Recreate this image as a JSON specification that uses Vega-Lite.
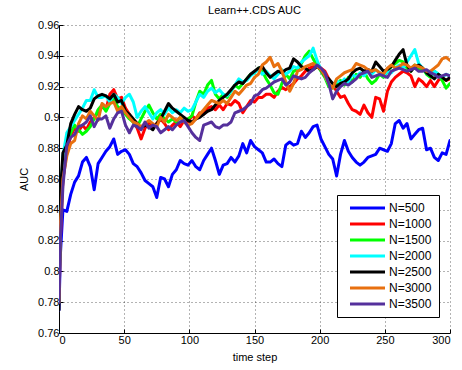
{
"$schema":"https://vega.github.io/schema/vega-lite/v6.json",
"width":391,"height":308,
"autosize":{"type":"none"},
"padding":{"left":59,"top":25,"right":12,"bottom":37},
"background":"#ffffff",
"config":{"font":"Liberation Sans","view":{"stroke":null},
"axis":{"domainColor":"#000","domainWidth":1,"tickColor":"#000","tickSize":-4,"labelFontSize":11,"labelColor":"#000","titleFontSize":11,"titleFontWeight":"normal","titleColor":"#000","gridColor":"#000","gridOpacity":0.6,"gridDash":[1,3],"gridWidth":1}},
"title":{"text":"Learn++.CDS AUC","fontSize":11,"fontWeight":"normal","color":"#000","offset":3},
"data":{"values":[
{"t":0,"s":"N=500","v":0.775},{"t":1,"s":"N=500","v":0.81},{"t":3,"s":"N=500","v":0.84},{"t":6,"s":"N=500","v":0.839},{"t":9,"s":"N=500","v":0.85},{"t":12,"s":"N=500","v":0.858},{"t":15,"s":"N=500","v":0.862},{"t":18,"s":"N=500","v":0.871},{"t":21,"s":"N=500","v":0.874},{"t":24,"s":"N=500","v":0.868},{"t":27,"s":"N=500","v":0.853},{"t":30,"s":"N=500","v":0.87},{"t":33,"s":"N=500","v":0.874},{"t":36,"s":"N=500","v":0.878},{"t":39,"s":"N=500","v":0.881},{"t":42,"s":"N=500","v":0.886},{"t":45,"s":"N=500","v":0.876},{"t":48,"s":"N=500","v":0.878},{"t":51,"s":"N=500","v":0.879},{"t":54,"s":"N=500","v":0.876},{"t":57,"s":"N=500","v":0.87},{"t":60,"s":"N=500","v":0.868},{"t":63,"s":"N=500","v":0.864},{"t":66,"s":"N=500","v":0.859},{"t":69,"s":"N=500","v":0.857},{"t":72,"s":"N=500","v":0.855},{"t":75,"s":"N=500","v":0.848},{"t":78,"s":"N=500","v":0.861},{"t":81,"s":"N=500","v":0.86},{"t":84,"s":"N=500","v":0.855},{"t":87,"s":"N=500","v":0.863},{"t":90,"s":"N=500","v":0.866},{"t":93,"s":"N=500","v":0.872},{"t":96,"s":"N=500","v":0.87},{"t":99,"s":"N=500","v":0.869},{"t":102,"s":"N=500","v":0.872},{"t":105,"s":"N=500","v":0.868},{"t":108,"s":"N=500","v":0.866},{"t":111,"s":"N=500","v":0.872},{"t":114,"s":"N=500","v":0.876},{"t":117,"s":"N=500","v":0.88},{"t":120,"s":"N=500","v":0.872},{"t":123,"s":"N=500","v":0.863},{"t":126,"s":"N=500","v":0.869},{"t":129,"s":"N=500","v":0.87},{"t":132,"s":"N=500","v":0.874},{"t":135,"s":"N=500","v":0.871},{"t":138,"s":"N=500","v":0.875},{"t":141,"s":"N=500","v":0.883},{"t":144,"s":"N=500","v":0.877},{"t":147,"s":"N=500","v":0.885},{"t":150,"s":"N=500","v":0.881},{"t":153,"s":"N=500","v":0.879},{"t":156,"s":"N=500","v":0.877},{"t":159,"s":"N=500","v":0.871},{"t":162,"s":"N=500","v":0.871},{"t":165,"s":"N=500","v":0.873},{"t":168,"s":"N=500","v":0.87},{"t":171,"s":"N=500","v":0.868},{"t":174,"s":"N=500","v":0.882},{"t":177,"s":"N=500","v":0.884},{"t":180,"s":"N=500","v":0.882},{"t":183,"s":"N=500","v":0.883},{"t":186,"s":"N=500","v":0.891},{"t":189,"s":"N=500","v":0.887},{"t":192,"s":"N=500","v":0.89},{"t":195,"s":"N=500","v":0.894},{"t":198,"s":"N=500","v":0.895},{"t":201,"s":"N=500","v":0.886},{"t":204,"s":"N=500","v":0.881},{"t":207,"s":"N=500","v":0.876},{"t":210,"s":"N=500","v":0.873},{"t":213,"s":"N=500","v":0.862},{"t":216,"s":"N=500","v":0.876},{"t":219,"s":"N=500","v":0.885},{"t":222,"s":"N=500","v":0.878},{"t":225,"s":"N=500","v":0.874},{"t":228,"s":"N=500","v":0.871},{"t":231,"s":"N=500","v":0.869},{"t":234,"s":"N=500","v":0.871},{"t":237,"s":"N=500","v":0.874},{"t":240,"s":"N=500","v":0.875},{"t":243,"s":"N=500","v":0.876},{"t":246,"s":"N=500","v":0.88},{"t":249,"s":"N=500","v":0.879},{"t":252,"s":"N=500","v":0.878},{"t":255,"s":"N=500","v":0.883},{"t":258,"s":"N=500","v":0.896},{"t":261,"s":"N=500","v":0.898},{"t":264,"s":"N=500","v":0.893},{"t":267,"s":"N=500","v":0.896},{"t":270,"s":"N=500","v":0.886},{"t":273,"s":"N=500","v":0.889},{"t":276,"s":"N=500","v":0.892},{"t":279,"s":"N=500","v":0.893},{"t":282,"s":"N=500","v":0.879},{"t":285,"s":"N=500","v":0.88},{"t":288,"s":"N=500","v":0.874},{"t":291,"s":"N=500","v":0.872},{"t":294,"s":"N=500","v":0.877},{"t":297,"s":"N=500","v":0.876},{"t":300,"s":"N=500","v":0.885},
{"t":0,"s":"N=1000","v":0.78},{"t":1,"s":"N=1000","v":0.82},{"t":3,"s":"N=1000","v":0.86},{"t":6,"s":"N=1000","v":0.878},{"t":9,"s":"N=1000","v":0.888},{"t":12,"s":"N=1000","v":0.893},{"t":15,"s":"N=1000","v":0.891},{"t":18,"s":"N=1000","v":0.895},{"t":21,"s":"N=1000","v":0.892},{"t":24,"s":"N=1000","v":0.897},{"t":27,"s":"N=1000","v":0.9},{"t":30,"s":"N=1000","v":0.903},{"t":33,"s":"N=1000","v":0.907},{"t":36,"s":"N=1000","v":0.905},{"t":39,"s":"N=1000","v":0.915},{"t":42,"s":"N=1000","v":0.918},{"t":45,"s":"N=1000","v":0.912},{"t":48,"s":"N=1000","v":0.913},{"t":51,"s":"N=1000","v":0.906},{"t":54,"s":"N=1000","v":0.902},{"t":57,"s":"N=1000","v":0.897},{"t":60,"s":"N=1000","v":0.893},{"t":63,"s":"N=1000","v":0.886},{"t":66,"s":"N=1000","v":0.893},{"t":69,"s":"N=1000","v":0.897},{"t":72,"s":"N=1000","v":0.894},{"t":75,"s":"N=1000","v":0.896},{"t":78,"s":"N=1000","v":0.899},{"t":81,"s":"N=1000","v":0.896},{"t":84,"s":"N=1000","v":0.892},{"t":87,"s":"N=1000","v":0.895},{"t":90,"s":"N=1000","v":0.897},{"t":93,"s":"N=1000","v":0.894},{"t":96,"s":"N=1000","v":0.898},{"t":99,"s":"N=1000","v":0.897},{"t":102,"s":"N=1000","v":0.901},{"t":105,"s":"N=1000","v":0.899},{"t":108,"s":"N=1000","v":0.903},{"t":111,"s":"N=1000","v":0.902},{"t":114,"s":"N=1000","v":0.906},{"t":117,"s":"N=1000","v":0.907},{"t":120,"s":"N=1000","v":0.905},{"t":123,"s":"N=1000","v":0.908},{"t":126,"s":"N=1000","v":0.905},{"t":129,"s":"N=1000","v":0.909},{"t":132,"s":"N=1000","v":0.908},{"t":135,"s":"N=1000","v":0.911},{"t":138,"s":"N=1000","v":0.909},{"t":141,"s":"N=1000","v":0.903},{"t":144,"s":"N=1000","v":0.907},{"t":147,"s":"N=1000","v":0.911},{"t":150,"s":"N=1000","v":0.91},{"t":153,"s":"N=1000","v":0.913},{"t":156,"s":"N=1000","v":0.913},{"t":159,"s":"N=1000","v":0.915},{"t":162,"s":"N=1000","v":0.915},{"t":165,"s":"N=1000","v":0.913},{"t":168,"s":"N=1000","v":0.917},{"t":171,"s":"N=1000","v":0.9195},{"t":174,"s":"N=1000","v":0.918},{"t":177,"s":"N=1000","v":0.92},{"t":180,"s":"N=1000","v":0.922},{"t":183,"s":"N=1000","v":0.925},{"t":186,"s":"N=1000","v":0.927},{"t":189,"s":"N=1000","v":0.93},{"t":192,"s":"N=1000","v":0.932},{"t":195,"s":"N=1000","v":0.933},{"t":198,"s":"N=1000","v":0.933},{"t":201,"s":"N=1000","v":0.932},{"t":204,"s":"N=1000","v":0.93},{"t":207,"s":"N=1000","v":0.925},{"t":210,"s":"N=1000","v":0.921},{"t":213,"s":"N=1000","v":0.917},{"t":216,"s":"N=1000","v":0.913},{"t":219,"s":"N=1000","v":0.914},{"t":222,"s":"N=1000","v":0.909},{"t":225,"s":"N=1000","v":0.905},{"t":228,"s":"N=1000","v":0.904},{"t":231,"s":"N=1000","v":0.902},{"t":234,"s":"N=1000","v":0.908},{"t":237,"s":"N=1000","v":0.903},{"t":240,"s":"N=1000","v":0.9},{"t":243,"s":"N=1000","v":0.913},{"t":246,"s":"N=1000","v":0.912},{"t":249,"s":"N=1000","v":0.904},{"t":252,"s":"N=1000","v":0.917},{"t":255,"s":"N=1000","v":0.923},{"t":258,"s":"N=1000","v":0.926},{"t":261,"s":"N=1000","v":0.928},{"t":264,"s":"N=1000","v":0.93},{"t":267,"s":"N=1000","v":0.929},{"t":270,"s":"N=1000","v":0.927},{"t":273,"s":"N=1000","v":0.92},{"t":276,"s":"N=1000","v":0.925},{"t":279,"s":"N=1000","v":0.923},{"t":282,"s":"N=1000","v":0.92},{"t":285,"s":"N=1000","v":0.924},{"t":288,"s":"N=1000","v":0.92},{"t":291,"s":"N=1000","v":0.924},{"t":294,"s":"N=1000","v":0.926},{"t":297,"s":"N=1000","v":0.924},{"t":300,"s":"N=1000","v":0.925},
{"t":0,"s":"N=1500","v":0.78},{"t":1,"s":"N=1500","v":0.83},{"t":3,"s":"N=1500","v":0.865},{"t":6,"s":"N=1500","v":0.882},{"t":9,"s":"N=1500","v":0.89},{"t":12,"s":"N=1500","v":0.895},{"t":15,"s":"N=1500","v":0.892},{"t":18,"s":"N=1500","v":0.889},{"t":21,"s":"N=1500","v":0.891},{"t":24,"s":"N=1500","v":0.894},{"t":27,"s":"N=1500","v":0.899},{"t":30,"s":"N=1500","v":0.905},{"t":33,"s":"N=1500","v":0.908},{"t":36,"s":"N=1500","v":0.904},{"t":39,"s":"N=1500","v":0.909},{"t":42,"s":"N=1500","v":0.912},{"t":45,"s":"N=1500","v":0.907},{"t":48,"s":"N=1500","v":0.905},{"t":51,"s":"N=1500","v":0.902},{"t":54,"s":"N=1500","v":0.899},{"t":57,"s":"N=1500","v":0.897},{"t":60,"s":"N=1500","v":0.894},{"t":63,"s":"N=1500","v":0.899},{"t":66,"s":"N=1500","v":0.904},{"t":69,"s":"N=1500","v":0.908},{"t":72,"s":"N=1500","v":0.903},{"t":75,"s":"N=1500","v":0.899},{"t":78,"s":"N=1500","v":0.902},{"t":81,"s":"N=1500","v":0.899},{"t":84,"s":"N=1500","v":0.897},{"t":87,"s":"N=1500","v":0.899},{"t":90,"s":"N=1500","v":0.897},{"t":93,"s":"N=1500","v":0.9},{"t":96,"s":"N=1500","v":0.898},{"t":99,"s":"N=1500","v":0.899},{"t":102,"s":"N=1500","v":0.901},{"t":105,"s":"N=1500","v":0.91},{"t":108,"s":"N=1500","v":0.917},{"t":111,"s":"N=1500","v":0.915},{"t":114,"s":"N=1500","v":0.921},{"t":117,"s":"N=1500","v":0.924},{"t":120,"s":"N=1500","v":0.915},{"t":123,"s":"N=1500","v":0.912},{"t":126,"s":"N=1500","v":0.915},{"t":129,"s":"N=1500","v":0.913},{"t":132,"s":"N=1500","v":0.917},{"t":135,"s":"N=1500","v":0.921},{"t":138,"s":"N=1500","v":0.919},{"t":141,"s":"N=1500","v":0.922},{"t":144,"s":"N=1500","v":0.925},{"t":147,"s":"N=1500","v":0.928},{"t":150,"s":"N=1500","v":0.929},{"t":153,"s":"N=1500","v":0.932},{"t":156,"s":"N=1500","v":0.93},{"t":159,"s":"N=1500","v":0.925},{"t":162,"s":"N=1500","v":0.921},{"t":165,"s":"N=1500","v":0.916},{"t":168,"s":"N=1500","v":0.915},{"t":171,"s":"N=1500","v":0.922},{"t":174,"s":"N=1500","v":0.928},{"t":177,"s":"N=1500","v":0.925},{"t":180,"s":"N=1500","v":0.93},{"t":183,"s":"N=1500","v":0.931},{"t":186,"s":"N=1500","v":0.935},{"t":189,"s":"N=1500","v":0.94},{"t":192,"s":"N=1500","v":0.943},{"t":195,"s":"N=1500","v":0.938},{"t":198,"s":"N=1500","v":0.934},{"t":201,"s":"N=1500","v":0.93},{"t":204,"s":"N=1500","v":0.926},{"t":207,"s":"N=1500","v":0.92},{"t":210,"s":"N=1500","v":0.919},{"t":213,"s":"N=1500","v":0.922},{"t":216,"s":"N=1500","v":0.924},{"t":219,"s":"N=1500","v":0.921},{"t":222,"s":"N=1500","v":0.926},{"t":225,"s":"N=1500","v":0.923},{"t":228,"s":"N=1500","v":0.928},{"t":231,"s":"N=1500","v":0.926},{"t":234,"s":"N=1500","v":0.93},{"t":237,"s":"N=1500","v":0.925},{"t":240,"s":"N=1500","v":0.922},{"t":243,"s":"N=1500","v":0.924},{"t":246,"s":"N=1500","v":0.928},{"t":249,"s":"N=1500","v":0.926},{"t":252,"s":"N=1500","v":0.93},{"t":255,"s":"N=1500","v":0.933},{"t":258,"s":"N=1500","v":0.935},{"t":261,"s":"N=1500","v":0.937},{"t":264,"s":"N=1500","v":0.936},{"t":267,"s":"N=1500","v":0.932},{"t":270,"s":"N=1500","v":0.93},{"t":273,"s":"N=1500","v":0.934},{"t":276,"s":"N=1500","v":0.931},{"t":279,"s":"N=1500","v":0.932},{"t":282,"s":"N=1500","v":0.928},{"t":285,"s":"N=1500","v":0.926},{"t":288,"s":"N=1500","v":0.93},{"t":291,"s":"N=1500","v":0.928},{"t":294,"s":"N=1500","v":0.924},{"t":297,"s":"N=1500","v":0.919},{"t":300,"s":"N=1500","v":0.922},
{"t":0,"s":"N=2000","v":0.78},{"t":1,"s":"N=2000","v":0.84},{"t":3,"s":"N=2000","v":0.875},{"t":6,"s":"N=2000","v":0.89},{"t":9,"s":"N=2000","v":0.894},{"t":12,"s":"N=2000","v":0.898},{"t":15,"s":"N=2000","v":0.902},{"t":18,"s":"N=2000","v":0.906},{"t":21,"s":"N=2000","v":0.911},{"t":24,"s":"N=2000","v":0.911},{"t":27,"s":"N=2000","v":0.918},{"t":30,"s":"N=2000","v":0.913},{"t":33,"s":"N=2000","v":0.913},{"t":36,"s":"N=2000","v":0.914},{"t":39,"s":"N=2000","v":0.91},{"t":42,"s":"N=2000","v":0.915},{"t":45,"s":"N=2000","v":0.913},{"t":48,"s":"N=2000","v":0.909},{"t":51,"s":"N=2000","v":0.913},{"t":54,"s":"N=2000","v":0.915},{"t":57,"s":"N=2000","v":0.91},{"t":60,"s":"N=2000","v":0.9},{"t":63,"s":"N=2000","v":0.904},{"t":66,"s":"N=2000","v":0.907},{"t":69,"s":"N=2000","v":0.903},{"t":72,"s":"N=2000","v":0.899},{"t":75,"s":"N=2000","v":0.903},{"t":78,"s":"N=2000","v":0.905},{"t":81,"s":"N=2000","v":0.902},{"t":84,"s":"N=2000","v":0.906},{"t":87,"s":"N=2000","v":0.903},{"t":90,"s":"N=2000","v":0.905},{"t":93,"s":"N=2000","v":0.903},{"t":96,"s":"N=2000","v":0.906},{"t":99,"s":"N=2000","v":0.904},{"t":102,"s":"N=2000","v":0.905},{"t":105,"s":"N=2000","v":0.91},{"t":108,"s":"N=2000","v":0.915},{"t":111,"s":"N=2000","v":0.913},{"t":114,"s":"N=2000","v":0.917},{"t":117,"s":"N=2000","v":0.919},{"t":120,"s":"N=2000","v":0.916},{"t":123,"s":"N=2000","v":0.918},{"t":126,"s":"N=2000","v":0.915},{"t":129,"s":"N=2000","v":0.914},{"t":132,"s":"N=2000","v":0.917},{"t":135,"s":"N=2000","v":0.921},{"t":138,"s":"N=2000","v":0.925},{"t":141,"s":"N=2000","v":0.923},{"t":144,"s":"N=2000","v":0.924},{"t":147,"s":"N=2000","v":0.927},{"t":150,"s":"N=2000","v":0.929},{"t":153,"s":"N=2000","v":0.931},{"t":156,"s":"N=2000","v":0.928},{"t":159,"s":"N=2000","v":0.93},{"t":162,"s":"N=2000","v":0.927},{"t":165,"s":"N=2000","v":0.925},{"t":168,"s":"N=2000","v":0.928},{"t":171,"s":"N=2000","v":0.931},{"t":174,"s":"N=2000","v":0.928},{"t":177,"s":"N=2000","v":0.93},{"t":180,"s":"N=2000","v":0.933},{"t":183,"s":"N=2000","v":0.932},{"t":186,"s":"N=2000","v":0.936},{"t":189,"s":"N=2000","v":0.938},{"t":192,"s":"N=2000","v":0.94},{"t":195,"s":"N=2000","v":0.945},{"t":198,"s":"N=2000","v":0.937},{"t":201,"s":"N=2000","v":0.931},{"t":204,"s":"N=2000","v":0.927},{"t":207,"s":"N=2000","v":0.922},{"t":210,"s":"N=2000","v":0.92},{"t":213,"s":"N=2000","v":0.924},{"t":216,"s":"N=2000","v":0.922},{"t":219,"s":"N=2000","v":0.925},{"t":222,"s":"N=2000","v":0.923},{"t":225,"s":"N=2000","v":0.928},{"t":228,"s":"N=2000","v":0.926},{"t":231,"s":"N=2000","v":0.929},{"t":234,"s":"N=2000","v":0.927},{"t":237,"s":"N=2000","v":0.93},{"t":240,"s":"N=2000","v":0.928},{"t":243,"s":"N=2000","v":0.931},{"t":246,"s":"N=2000","v":0.929},{"t":249,"s":"N=2000","v":0.927},{"t":252,"s":"N=2000","v":0.93},{"t":255,"s":"N=2000","v":0.929},{"t":258,"s":"N=2000","v":0.932},{"t":261,"s":"N=2000","v":0.934},{"t":264,"s":"N=2000","v":0.932},{"t":267,"s":"N=2000","v":0.936},{"t":270,"s":"N=2000","v":0.94},{"t":273,"s":"N=2000","v":0.944},{"t":276,"s":"N=2000","v":0.935},{"t":279,"s":"N=2000","v":0.932},{"t":282,"s":"N=2000","v":0.929},{"t":285,"s":"N=2000","v":0.927},{"t":288,"s":"N=2000","v":0.93},{"t":291,"s":"N=2000","v":0.928},{"t":294,"s":"N=2000","v":0.926},{"t":297,"s":"N=2000","v":0.928},{"t":300,"s":"N=2000","v":0.927},
{"t":0,"s":"N=2500","v":0.775},{"t":1,"s":"N=2500","v":0.85},{"t":3,"s":"N=2500","v":0.877},{"t":6,"s":"N=2500","v":0.882},{"t":9,"s":"N=2500","v":0.896},{"t":12,"s":"N=2500","v":0.902},{"t":15,"s":"N=2500","v":0.907},{"t":18,"s":"N=2500","v":0.905},{"t":21,"s":"N=2500","v":0.904},{"t":24,"s":"N=2500","v":0.906},{"t":27,"s":"N=2500","v":0.912},{"t":30,"s":"N=2500","v":0.914},{"t":33,"s":"N=2500","v":0.915},{"t":36,"s":"N=2500","v":0.914},{"t":39,"s":"N=2500","v":0.912},{"t":42,"s":"N=2500","v":0.915},{"t":45,"s":"N=2500","v":0.91},{"t":48,"s":"N=2500","v":0.911},{"t":51,"s":"N=2500","v":0.904},{"t":54,"s":"N=2500","v":0.902},{"t":57,"s":"N=2500","v":0.899},{"t":60,"s":"N=2500","v":0.896},{"t":63,"s":"N=2500","v":0.893},{"t":66,"s":"N=2500","v":0.895},{"t":69,"s":"N=2500","v":0.894},{"t":72,"s":"N=2500","v":0.892},{"t":75,"s":"N=2500","v":0.896},{"t":78,"s":"N=2500","v":0.899},{"t":81,"s":"N=2500","v":0.904},{"t":84,"s":"N=2500","v":0.909},{"t":87,"s":"N=2500","v":0.906},{"t":90,"s":"N=2500","v":0.904},{"t":93,"s":"N=2500","v":0.902},{"t":96,"s":"N=2500","v":0.9},{"t":99,"s":"N=2500","v":0.898},{"t":102,"s":"N=2500","v":0.897},{"t":105,"s":"N=2500","v":0.899},{"t":108,"s":"N=2500","v":0.9},{"t":111,"s":"N=2500","v":0.902},{"t":114,"s":"N=2500","v":0.904},{"t":117,"s":"N=2500","v":0.905},{"t":120,"s":"N=2500","v":0.908},{"t":123,"s":"N=2500","v":0.911},{"t":126,"s":"N=2500","v":0.913},{"t":129,"s":"N=2500","v":0.915},{"t":132,"s":"N=2500","v":0.918},{"t":135,"s":"N=2500","v":0.921},{"t":138,"s":"N=2500","v":0.923},{"t":141,"s":"N=2500","v":0.922},{"t":144,"s":"N=2500","v":0.925},{"t":147,"s":"N=2500","v":0.928},{"t":150,"s":"N=2500","v":0.93},{"t":153,"s":"N=2500","v":0.932},{"t":156,"s":"N=2500","v":0.933},{"t":159,"s":"N=2500","v":0.929},{"t":162,"s":"N=2500","v":0.926},{"t":165,"s":"N=2500","v":0.928},{"t":168,"s":"N=2500","v":0.93},{"t":171,"s":"N=2500","v":0.929},{"t":174,"s":"N=2500","v":0.931},{"t":177,"s":"N=2500","v":0.932},{"t":180,"s":"N=2500","v":0.938},{"t":183,"s":"N=2500","v":0.936},{"t":186,"s":"N=2500","v":0.933},{"t":189,"s":"N=2500","v":0.932},{"t":192,"s":"N=2500","v":0.93},{"t":195,"s":"N=2500","v":0.931},{"t":198,"s":"N=2500","v":0.933},{"t":201,"s":"N=2500","v":0.931},{"t":204,"s":"N=2500","v":0.927},{"t":207,"s":"N=2500","v":0.925},{"t":210,"s":"N=2500","v":0.922},{"t":213,"s":"N=2500","v":0.92},{"t":216,"s":"N=2500","v":0.922},{"t":219,"s":"N=2500","v":0.923},{"t":222,"s":"N=2500","v":0.925},{"t":225,"s":"N=2500","v":0.929},{"t":228,"s":"N=2500","v":0.931},{"t":231,"s":"N=2500","v":0.932},{"t":234,"s":"N=2500","v":0.93},{"t":237,"s":"N=2500","v":0.931},{"t":240,"s":"N=2500","v":0.93},{"t":243,"s":"N=2500","v":0.936},{"t":246,"s":"N=2500","v":0.933},{"t":249,"s":"N=2500","v":0.93},{"t":252,"s":"N=2500","v":0.931},{"t":255,"s":"N=2500","v":0.933},{"t":258,"s":"N=2500","v":0.937},{"t":261,"s":"N=2500","v":0.941},{"t":264,"s":"N=2500","v":0.944},{"t":267,"s":"N=2500","v":0.934},{"t":270,"s":"N=2500","v":0.93},{"t":273,"s":"N=2500","v":0.933},{"t":276,"s":"N=2500","v":0.934},{"t":279,"s":"N=2500","v":0.932},{"t":282,"s":"N=2500","v":0.929},{"t":285,"s":"N=2500","v":0.927},{"t":288,"s":"N=2500","v":0.925},{"t":291,"s":"N=2500","v":0.928},{"t":294,"s":"N=2500","v":0.926},{"t":297,"s":"N=2500","v":0.924},{"t":300,"s":"N=2500","v":0.926},
{"t":0,"s":"N=3000","v":0.78},{"t":1,"s":"N=3000","v":0.83},{"t":3,"s":"N=3000","v":0.86},{"t":6,"s":"N=3000","v":0.875},{"t":9,"s":"N=3000","v":0.883},{"t":12,"s":"N=3000","v":0.885},{"t":15,"s":"N=3000","v":0.896},{"t":18,"s":"N=3000","v":0.901},{"t":21,"s":"N=3000","v":0.899},{"t":24,"s":"N=3000","v":0.904},{"t":27,"s":"N=3000","v":0.901},{"t":30,"s":"N=3000","v":0.898},{"t":33,"s":"N=3000","v":0.909},{"t":36,"s":"N=3000","v":0.907},{"t":39,"s":"N=3000","v":0.909},{"t":42,"s":"N=3000","v":0.91},{"t":45,"s":"N=3000","v":0.904},{"t":48,"s":"N=3000","v":0.907},{"t":51,"s":"N=3000","v":0.903},{"t":54,"s":"N=3000","v":0.9},{"t":57,"s":"N=3000","v":0.897},{"t":60,"s":"N=3000","v":0.896},{"t":63,"s":"N=3000","v":0.894},{"t":66,"s":"N=3000","v":0.896},{"t":69,"s":"N=3000","v":0.898},{"t":72,"s":"N=3000","v":0.896},{"t":75,"s":"N=3000","v":0.894},{"t":78,"s":"N=3000","v":0.9},{"t":81,"s":"N=3000","v":0.897},{"t":84,"s":"N=3000","v":0.902},{"t":87,"s":"N=3000","v":0.9},{"t":90,"s":"N=3000","v":0.898},{"t":93,"s":"N=3000","v":0.9},{"t":96,"s":"N=3000","v":0.897},{"t":99,"s":"N=3000","v":0.895},{"t":102,"s":"N=3000","v":0.896},{"t":105,"s":"N=3000","v":0.899},{"t":108,"s":"N=3000","v":0.902},{"t":111,"s":"N=3000","v":0.905},{"t":114,"s":"N=3000","v":0.908},{"t":117,"s":"N=3000","v":0.911},{"t":120,"s":"N=3000","v":0.91},{"t":123,"s":"N=3000","v":0.909},{"t":126,"s":"N=3000","v":0.911},{"t":129,"s":"N=3000","v":0.909},{"t":132,"s":"N=3000","v":0.913},{"t":135,"s":"N=3000","v":0.917},{"t":138,"s":"N=3000","v":0.915},{"t":141,"s":"N=3000","v":0.918},{"t":144,"s":"N=3000","v":0.921},{"t":147,"s":"N=3000","v":0.922},{"t":150,"s":"N=3000","v":0.926},{"t":153,"s":"N=3000","v":0.928},{"t":156,"s":"N=3000","v":0.934},{"t":159,"s":"N=3000","v":0.936},{"t":162,"s":"N=3000","v":0.939},{"t":165,"s":"N=3000","v":0.933},{"t":168,"s":"N=3000","v":0.935},{"t":171,"s":"N=3000","v":0.93},{"t":174,"s":"N=3000","v":0.923},{"t":177,"s":"N=3000","v":0.917},{"t":180,"s":"N=3000","v":0.922},{"t":183,"s":"N=3000","v":0.93},{"t":186,"s":"N=3000","v":0.931},{"t":189,"s":"N=3000","v":0.933},{"t":192,"s":"N=3000","v":0.934},{"t":195,"s":"N=3000","v":0.935},{"t":198,"s":"N=3000","v":0.933},{"t":201,"s":"N=3000","v":0.931},{"t":204,"s":"N=3000","v":0.927},{"t":207,"s":"N=3000","v":0.922},{"t":210,"s":"N=3000","v":0.919},{"t":213,"s":"N=3000","v":0.925},{"t":216,"s":"N=3000","v":0.927},{"t":219,"s":"N=3000","v":0.929},{"t":222,"s":"N=3000","v":0.93},{"t":225,"s":"N=3000","v":0.931},{"t":228,"s":"N=3000","v":0.935},{"t":231,"s":"N=3000","v":0.934},{"t":234,"s":"N=3000","v":0.933},{"t":237,"s":"N=3000","v":0.931},{"t":240,"s":"N=3000","v":0.93},{"t":243,"s":"N=3000","v":0.931},{"t":246,"s":"N=3000","v":0.929},{"t":249,"s":"N=3000","v":0.928},{"t":252,"s":"N=3000","v":0.932},{"t":255,"s":"N=3000","v":0.934},{"t":258,"s":"N=3000","v":0.932},{"t":261,"s":"N=3000","v":0.933},{"t":264,"s":"N=3000","v":0.935},{"t":267,"s":"N=3000","v":0.934},{"t":270,"s":"N=3000","v":0.932},{"t":273,"s":"N=3000","v":0.934},{"t":276,"s":"N=3000","v":0.933},{"t":279,"s":"N=3000","v":0.932},{"t":282,"s":"N=3000","v":0.93},{"t":285,"s":"N=3000","v":0.93},{"t":288,"s":"N=3000","v":0.932},{"t":291,"s":"N=3000","v":0.934},{"t":294,"s":"N=3000","v":0.938},{"t":297,"s":"N=3000","v":0.939},{"t":300,"s":"N=3000","v":0.937},
{"t":0,"s":"N=3500","v":0.78},{"t":1,"s":"N=3500","v":0.82},{"t":3,"s":"N=3500","v":0.855},{"t":6,"s":"N=3500","v":0.882},{"t":9,"s":"N=3500","v":0.887},{"t":12,"s":"N=3500","v":0.889},{"t":15,"s":"N=3500","v":0.894},{"t":18,"s":"N=3500","v":0.895},{"t":21,"s":"N=3500","v":0.897},{"t":24,"s":"N=3500","v":0.901},{"t":27,"s":"N=3500","v":0.894},{"t":30,"s":"N=3500","v":0.899},{"t":33,"s":"N=3500","v":0.899},{"t":36,"s":"N=3500","v":0.901},{"t":39,"s":"N=3500","v":0.893},{"t":42,"s":"N=3500","v":0.899},{"t":45,"s":"N=3500","v":0.903},{"t":48,"s":"N=3500","v":0.904},{"t":51,"s":"N=3500","v":0.895},{"t":54,"s":"N=3500","v":0.89},{"t":57,"s":"N=3500","v":0.895},{"t":60,"s":"N=3500","v":0.894},{"t":63,"s":"N=3500","v":0.892},{"t":66,"s":"N=3500","v":0.897},{"t":69,"s":"N=3500","v":0.893},{"t":72,"s":"N=3500","v":0.895},{"t":75,"s":"N=3500","v":0.894},{"t":78,"s":"N=3500","v":0.89},{"t":81,"s":"N=3500","v":0.892},{"t":84,"s":"N=3500","v":0.894},{"t":87,"s":"N=3500","v":0.892},{"t":90,"s":"N=3500","v":0.895},{"t":93,"s":"N=3500","v":0.897},{"t":96,"s":"N=3500","v":0.898},{"t":99,"s":"N=3500","v":0.894},{"t":102,"s":"N=3500","v":0.89},{"t":105,"s":"N=3500","v":0.887},{"t":108,"s":"N=3500","v":0.885},{"t":111,"s":"N=3500","v":0.895},{"t":114,"s":"N=3500","v":0.896},{"t":117,"s":"N=3500","v":0.897},{"t":120,"s":"N=3500","v":0.894},{"t":123,"s":"N=3500","v":0.893},{"t":126,"s":"N=3500","v":0.895},{"t":129,"s":"N=3500","v":0.895},{"t":132,"s":"N=3500","v":0.897},{"t":135,"s":"N=3500","v":0.903},{"t":138,"s":"N=3500","v":0.904},{"t":141,"s":"N=3500","v":0.905},{"t":144,"s":"N=3500","v":0.907},{"t":147,"s":"N=3500","v":0.909},{"t":150,"s":"N=3500","v":0.914},{"t":153,"s":"N=3500","v":0.915},{"t":156,"s":"N=3500","v":0.918},{"t":159,"s":"N=3500","v":0.919},{"t":162,"s":"N=3500","v":0.921},{"t":165,"s":"N=3500","v":0.923},{"t":168,"s":"N=3500","v":0.924},{"t":171,"s":"N=3500","v":0.925},{"t":174,"s":"N=3500","v":0.921},{"t":177,"s":"N=3500","v":0.923},{"t":180,"s":"N=3500","v":0.927},{"t":183,"s":"N=3500","v":0.926},{"t":186,"s":"N=3500","v":0.925},{"t":189,"s":"N=3500","v":0.926},{"t":192,"s":"N=3500","v":0.929},{"t":195,"s":"N=3500","v":0.931},{"t":198,"s":"N=3500","v":0.934},{"t":201,"s":"N=3500","v":0.932},{"t":204,"s":"N=3500","v":0.929},{"t":207,"s":"N=3500","v":0.922},{"t":210,"s":"N=3500","v":0.912},{"t":213,"s":"N=3500","v":0.917},{"t":216,"s":"N=3500","v":0.92},{"t":219,"s":"N=3500","v":0.922},{"t":222,"s":"N=3500","v":0.921},{"t":225,"s":"N=3500","v":0.923},{"t":228,"s":"N=3500","v":0.925},{"t":231,"s":"N=3500","v":0.928},{"t":234,"s":"N=3500","v":0.929},{"t":237,"s":"N=3500","v":0.93},{"t":240,"s":"N=3500","v":0.926},{"t":243,"s":"N=3500","v":0.927},{"t":246,"s":"N=3500","v":0.928},{"t":249,"s":"N=3500","v":0.927},{"t":252,"s":"N=3500","v":0.926},{"t":255,"s":"N=3500","v":0.93},{"t":258,"s":"N=3500","v":0.931},{"t":261,"s":"N=3500","v":0.932},{"t":264,"s":"N=3500","v":0.931},{"t":267,"s":"N=3500","v":0.93},{"t":270,"s":"N=3500","v":0.931},{"t":273,"s":"N=3500","v":0.932},{"t":276,"s":"N=3500","v":0.93},{"t":279,"s":"N=3500","v":0.93},{"t":282,"s":"N=3500","v":0.931},{"t":285,"s":"N=3500","v":0.929},{"t":288,"s":"N=3500","v":0.928},{"t":291,"s":"N=3500","v":0.926},{"t":294,"s":"N=3500","v":0.927},{"t":297,"s":"N=3500","v":0.928},{"t":300,"s":"N=3500","v":0.927}
]},
"mark":{"type":"line","strokeWidth":3,"clip":true,"strokeJoin":"round","strokeCap":"round"},
"encoding":{
"x":{"field":"t","type":"quantitative","scale":{"domain":[0,300],"nice":false},"axis":{"title":"time step","values":[0,50,100,150,200,250,300],"labelPadding":5,"titlePadding":6}},
"y":{"field":"v","type":"quantitative","scale":{"domain":[0.76,0.96],"nice":false,"zero":false},"axis":{"title":"AUC","values":[0.76,0.78,0.8,0.82,0.84,0.86,0.88,0.9,0.92,0.94,0.96],"format":"~g","labelPadding":4,"titlePadding":8}},
"color":{"field":"s","type":"nominal","scale":{"domain":["N=500","N=1000","N=1500","N=2000","N=2500","N=3000","N=3500"],"range":["#0000ff","#ff0000","#00ff00","#00ffff","#000000","#e8700f","#55309c"]},
"legend":{"title":null,"orient":"none","legendX":278,"legendY":170,"strokeColor":"#000","fillColor":"#fff","padding":7,"symbolType":"M0,0L10,0","symbolSize":49,"symbolStrokeWidth":3,"labelFontSize":12,"labelColor":"#000","labelOffset":33,"rowPadding":4}}
}
}
